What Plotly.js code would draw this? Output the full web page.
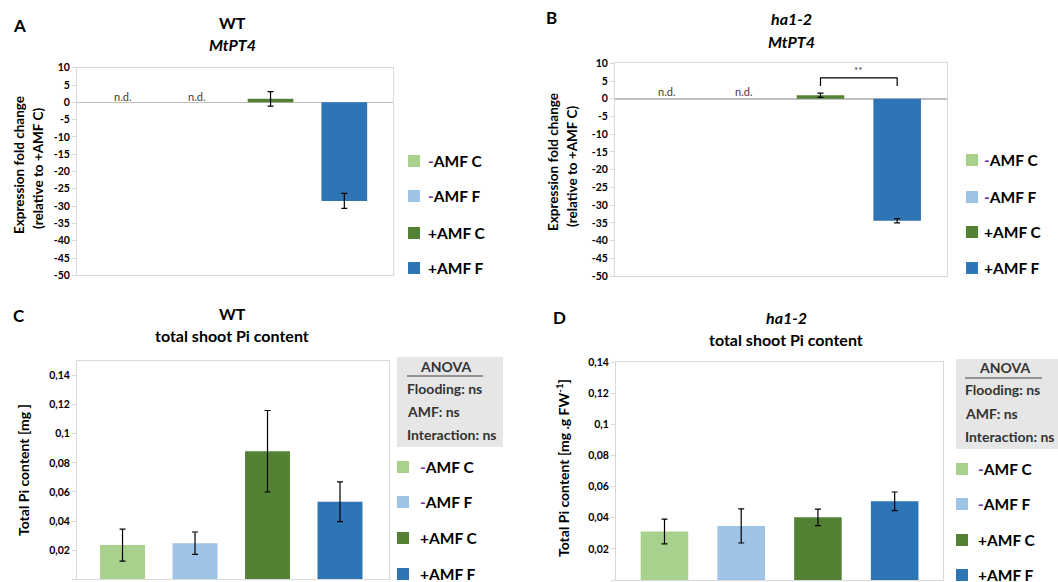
<!DOCTYPE html>
<html>
<head>
<meta charset="utf-8">
<script src="https://cdn.plot.ly/plotly-3.0.1.min.js"></script>
<style>
  html, body { margin: 0; padding: 0; background: #fff; }
  #chart { width: 1058px; height: 582px; }
</style>
</head>
<body>
<div id="chart"></div>
<script>
// ---------------- DATA ----------------
const categories = ['-AMF C', '-AMF F', '+AMF C', '+AMF F'];
const legendLabels = [
  '<span style="color:#7030A0">-</span>AMF C',
  '<span style="color:#7030A0">-</span>AMF F',
  '+AMF C',
  '+AMF F'
];
const barColors = ['#A9D18E', '#9DC3E6', '#548235', '#2E75B6'];

// Panel A: WT MtPT4 expression fold change (relative to +AMF C)
const wtPT4 = [null, null, 1.0, -28.5];
const wtPT4Err = [null, null, 2.1, 2.15];
// Panel B: ha1-2 MtPT4 expression fold change
const ha12PT4 = [null, null, 1.0, -34.4];
const ha12PT4Err = [null, null, 0.6, 0.6];
const ndLabels = ['n.d.', 'n.d.', '', ''];

// Panel C: WT total shoot Pi content [mg]
const wtPi = [0.0235, 0.0248, 0.0880, 0.0533];
const wtPiErr = [0.0110, 0.0077, 0.0280, 0.0137];
// Panel D: ha1-2 total shoot Pi content [mg .g FW-1]
const ha12Pi = [0.0312, 0.0348, 0.0403, 0.0506];
const ha12PiErr = [0.0080, 0.0110, 0.0053, 0.0060];

// Axis ticks
const fcTickVals = [10, 5, 0, -5, -10, -15, -20, -25, -30, -35, -40, -45, -50];
const fcTickText = ['10', '5', '0', '-5', '-10', '-15', '-20', '-25', '-30', '-35', '-40', '-45', '-50'];
const piTickVals = [0, 0.02, 0.04, 0.06, 0.08, 0.1, 0.12, 0.14];
const piTickText = ['0', '0,02', '0,04', '0,06', '0,08', '0,1', '0,12', '0,14'];

// Significance (panel B)
const sigPair = [2, 3];
const sigLow = 3.6;
const sigHigh = 5.9;
const sigLabel = '**';
const sigLabelY = 8.1;

// ANOVA
const anovaLines = ['Flooding: ns', 'AMF: ns', 'Interaction: ns'];

// ---------------- HELPERS ----------------
const W = 1058, H = 582;
const px = x => x / W;
const py = y => 1 - y / H;
const FONT = 'Lato, "Open Sans", "DejaVu Sans", sans-serif';

const panels = [
  { key: '', vals: wtPT4, errs: wtPT4Err },
  { key: '2', vals: ha12PT4, errs: ha12PT4Err },
  { key: '3', vals: wtPi, errs: wtPiErr },
  { key: '4', vals: ha12Pi, errs: ha12PiErr }
];

const traces = [];
panels.forEach((p, pi) => {
  traces.push({
    type: 'bar',
    x: categories.map((c, i) => i),
    y: p.vals,
    width: 0.62,
    name: 'panel' + pi,
    showlegend: false,
    marker: { color: barColors, line: { width: 0 } },
    error_y: {
      type: 'data', array: p.errs, visible: true,
      color: '#000', thickness: 1.2, width: 3
    },
    xaxis: 'x' + p.key,
    yaxis: 'y' + p.key,
    hoverinfo: 'skip'
  });
});

function xAxis(d0, d1, r0, r1, anchor) {
  return {
    domain: [px(d0), px(d1)], range: [r0, r1], anchor: anchor,
    showticklabels: false, showgrid: false, zeroline: false,
    showline: true, mirror: true, linecolor: '#d9d9d9', linewidth: 1, ticks: ''
  };
}
function yAxis(top, bottom, range, vals, text, anchor, zero) {
  return {
    domain: [py(bottom), py(top)], range: range, anchor: anchor,
    tickmode: 'array', tickvals: vals, ticktext: text,
    showgrid: false, zeroline: zero, zerolinecolor: '#bfbfbf', zerolinewidth: 1.5,
    showline: true, mirror: true, linecolor: '#d9d9d9', linewidth: 1,
    ticks: 'outside', ticklen: 4, tickcolor: '#d9d9d9',
    tickfont: { family: FONT, size: 10.5, color: '#000', weight: 'bold' }
  };
}

const annotations = [];
const shapes = [];
function txt(x, y, text, size, opts) {
  annotations.push(Object.assign({
    xref: 'paper', yref: 'paper', x: px(x), y: py(y), text: text, showarrow: false,
    xanchor: 'center', yanchor: 'middle',
    font: { family: FONT, size: size, color: '#000', weight: 'bold' }
  }, opts || {}));
}

// Panel letters
txt(19, 26, 'A', 17);
txt(551, 17, 'B', 17);
txt(19, 315, 'C', 17);
txt(559, 317, 'D', 17);

// Titles
txt(232, 23, 'WT', 16);
txt(232, 45, '<i>MtPT4</i>', 16);
txt(791, 18, '<i>ha1-2</i>', 16);
txt(791, 42, '<i>MtPT4</i>', 16);
txt(232, 313, 'WT', 16);
txt(232, 335, 'total shoot Pi content', 16);
txt(786, 317, '<i>ha1-2</i>', 16);
txt(786, 339, 'total shoot Pi content', 16);

// Y axis titles
txt(19, 165, 'Expression fold change', 13.5, { textangle: -90 });
txt(38, 169, '(relative to +AMF C)', 13.5, { textangle: -90 });
txt(553, 162, 'Expression fold change', 13.5, { textangle: -90 });
txt(572, 167, '(relative to +AMF C)', 13.5, { textangle: -90 });
txt(23, 470, 'Total Pi content [mg ]', 14, { textangle: -90 });
txt(562, 468, 'Total Pi content [mg .g FW<sup>-1</sup>]', 14, { textangle: -90 });

// n.d. labels
ndLabels.forEach((t, i) => {
  if (!t) return;
  annotations.push({ xref: 'x', yref: 'y', x: i, y: 1.6, text: t, showarrow: false,
    font: { family: FONT, size: 11, color: '#404040' } });
  annotations.push({ xref: 'x2', yref: 'y2', x: i, y: 2.0, text: t, showarrow: false,
    font: { family: FONT, size: 11, color: '#404040' } });
});
// significance label
annotations.push({ xref: 'x2', yref: 'y2', x: (sigPair[0] + sigPair[1]) / 2, y: sigLabelY,
  text: sigLabel, showarrow: false, font: { family: FONT, size: 10, color: '#404040' } });

// ANOVA boxes
function anova(x0, x1, y0, y1, textX, headX, ys, ul0, ul1, ulY) {
  const f = { family: FONT, size: 14, color: '#333', weight: 'bold' };
  txt(headX, ys[0], 'ANOVA', 14, { font: f });
  anovaLines.forEach((l, i) => {
    txt(textX, ys[i + 1], l, 14, { xanchor: 'left', font: f });
  });
  shapes.push(
    { type: 'rect', xref: 'paper', yref: 'paper', x0: px(x0), x1: px(x1), y0: py(y1), y1: py(y0),
      fillcolor: '#e7e6e6', line: { width: 0 }, layer: 'below' },
    { type: 'line', xref: 'paper', yref: 'paper', x0: px(ul0), x1: px(ul1), y0: py(ulY), y1: py(ulY),
      line: { color: '#404040', width: 1.2 } }
  );
}
anova(397, 503, 357, 447, 405, 445, [366, 388, 411, 434], 407, 483, 376);
anova(956, 1075, 359, 449, 963, 1004, [367, 390, 413, 436], 965, 1042, 378);

// Significance bracket (data coordinates of panel B)
shapes.push({
  type: 'path', xref: 'x2', yref: 'y2',
  path: 'M' + sigPair[0] + ',' + sigLow + ' L' + sigPair[0] + ',' + sigHigh +
        ' L' + sigPair[1] + ',' + sigHigh + ' L' + sigPair[1] + ',' + sigLow,
  line: { color: '#000', width: 1.2 }
});

// Legends (swatch + label) for each panel
function legendBlock(sqX, textX, ys) {
  legendLabels.forEach((lab, i) => {
    shapes.push({ type: 'rect', xref: 'paper', yref: 'paper',
      x0: px(sqX), x1: px(sqX + 12), y0: py(ys[i] + 6), y1: py(ys[i] - 6),
      fillcolor: barColors[i], line: { width: 0 } });
    txt(textX, ys[i], lab, 15.5, { xanchor: 'left' });
  });
}
legendBlock(408, 426, [161, 196, 233, 268]);
legendBlock(966, 982, [160, 197, 232, 268]);
legendBlock(397, 418, [467, 502, 538, 574]);
legendBlock(956, 976, [469, 504, 540, 575]);

const layout = {
  width: W, height: H,
  margin: { l: 0, r: 0, t: 0, b: 0 },
  paper_bgcolor: '#fff', plot_bgcolor: '#fff',
  showlegend: false,
  barmode: 'overlay',
  separators: ',.',
  font: { family: FONT },
  xaxis: xAxis(77, 393, -0.624, 3.66, 'y'),
  yaxis: yAxis(67.7, 275.3, [-50, 10], fcTickVals, fcTickText, 'x', true),
  xaxis2: xAxis(615, 947, -0.68, 3.65, 'y2'),
  yaxis2: yAxis(63.3, 276, [-50, 10], fcTickVals, fcTickText, 'x2', true),
  xaxis3: xAxis(77, 389, -0.628, 3.676, 'y3'),
  yaxis3: yAxis(361, 579.3, [0, 0.15], piTickVals, piTickText, 'x3', false),
  xaxis4: xAxis(616, 943, -0.632, 3.63, 'y4'),
  yaxis4: yAxis(362.3, 580, [0, 0.14], piTickVals, piTickText, 'x4', false),
  annotations: annotations,
  shapes: shapes
};

Plotly.newPlot('chart', traces, layout, { staticPlot: true, displayModeBar: false });
</script>
</body>
</html>
